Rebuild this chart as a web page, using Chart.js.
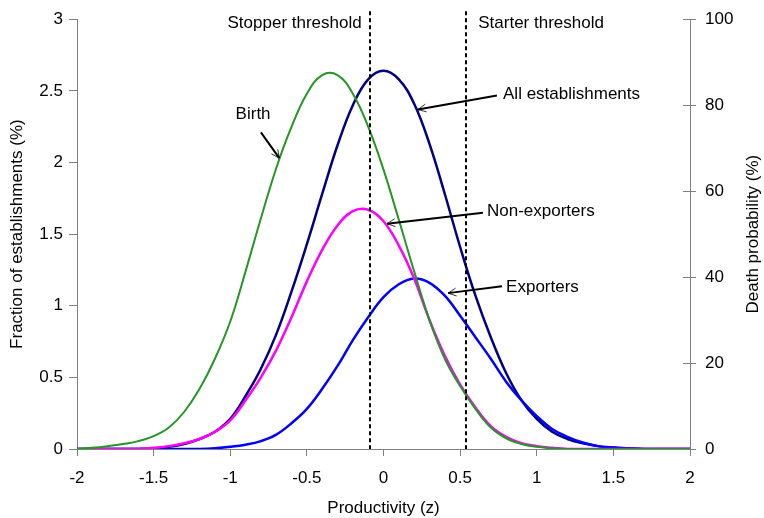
<!DOCTYPE html>
<html>
<head>
<meta charset="utf-8">
<script src="https://cdn.jsdelivr.net/npm/chart.js@4.4.0/dist/chart.umd.min.js"></script>
<style>
  html, body { margin: 0; padding: 0; background: #fff; }
</style>
</head>
<body>
<canvas id="chart" width="764" height="518"></canvas>
<script>
// Productivity grid (z) and curves, in % of establishments
const zValues = [-2, -1.9, -1.8, -1.7, -1.6, -1.5, -1.4, -1.3, -1.2, -1.1,
    -1, -0.9, -0.8, -0.7, -0.6, -0.5, -0.4, -0.3, -0.2, -0.1,
    0, 0.1, 0.2, 0.3, 0.4, 0.5, 0.6, 0.7, 0.8, 0.9,
    1, 1.1, 1.2, 1.3, 1.4, 1.5, 1.6, 1.7, 1.8, 1.9, 2];

const birth = [0, 0.008, 0.02, 0.035, 0.055, 0.09, 0.15, 0.26, 0.42, 0.63,
    0.89, 1.24, 1.61, 1.96, 2.25, 2.48, 2.61, 2.61, 2.48, 2.25,
    1.95, 1.6, 1.24, 0.9, 0.63, 0.44, 0.28, 0.15, 0.075, 0.035,
    0.015, 0.005, 0, 0, 0, 0, 0, 0, 0, 0, 0];

const allEstablishments = [0, 0, 0, 0, 0, 0.005, 0.015, 0.035, 0.07, 0.12,
    0.21, 0.37, 0.56, 0.8, 1.1, 1.43, 1.78, 2.12, 2.4, 2.58,
    2.64, 2.58, 2.41, 2.13, 1.78, 1.41, 1.07, 0.78, 0.53, 0.34,
    0.21, 0.12, 0.07, 0.04, 0.02, 0.01, 0.004, 0, 0, 0, 0];

const nonExporters = [0, 0, 0, 0, 0, 0.008, 0.02, 0.04, 0.07, 0.12,
    0.2, 0.34, 0.5, 0.69, 0.92, 1.17, 1.39, 1.56, 1.66, 1.67,
    1.59, 1.42, 1.19, 0.9, 0.65, 0.45, 0.29, 0.16, 0.085, 0.04,
    0.02, 0.008, 0, 0, 0, 0, 0, 0, 0, 0, 0];

const exporters = [0, 0, 0, 0, 0, 0, 0, 0, 0, 0.005,
    0.015, 0.03, 0.055, 0.1, 0.18, 0.28, 0.42, 0.58, 0.76, 0.92,
    1.06, 1.15, 1.19, 1.16, 1.07, 0.93, 0.78, 0.63, 0.47, 0.34,
    0.23, 0.14, 0.085, 0.045, 0.02, 0.01, 0.004, 0, 0, 0, 0];

const xTicks = [-2, -1.5, -1, -0.5, 0, 0.5, 1, 1.5, 2];
const thresholdZ = [-0.09, 0.54];
const thresholdLabels = ['Stopper threshold', 'Starter threshold'];

const FONT = "'Liberation Sans', Arial, sans-serif";
const AXIS_GREY = '#808080';

function toPoints(values) {
    return zValues.map((z, i) => ({ x: z, y: values[i] }));
}

// Callout labels with arrows, anchored in data units
const callouts = [
    { text: 'Birth', tz: -0.851, tv: 2.335, align: 'center', from: [-0.80, 2.21], to: [-0.68, 2.03] },
    { text: 'All establishments', tz: 0.78, tv: 2.474, align: 'left', from: [0.74, 2.467], to: [0.225, 2.37] },
    { text: 'Non-exporters', tz: 0.675, tv: 1.656, align: 'left', from: [0.649, 1.649], to: [0.023, 1.573] },
    { text: 'Exporters', tz: 0.80, tv: 1.13, align: 'left', from: [0.773, 1.136], to: [0.421, 1.088] }
];

const annotationPlugin = {
    id: 'annotations',
    afterDraw(chart) {
        const ctx = chart.ctx;
        const xs = chart.scales.x, ys = chart.scales.y, ys1 = chart.scales.y1;
        const area = chart.chartArea;
        ctx.save();

        // inner half of the crossing ticks on the right axis
        ctx.strokeStyle = AXIS_GREY;
        ctx.lineWidth = 1;
        ys1.ticks.forEach(t => {
            const py = Math.round(ys1.getPixelForValue(t.value)) + 0.5;
            ctx.beginPath();
            ctx.moveTo(area.right - 7, py);
            ctx.lineTo(area.right, py);
            ctx.stroke();
        });

        // threshold lines
        ctx.strokeStyle = '#000';
        ctx.lineWidth = 2;
        ctx.setLineDash([4, 3]);
        thresholdZ.forEach(z => {
            const px = Math.round(xs.getPixelForValue(z));
            ctx.beginPath();
            ctx.moveTo(px, area.top - 8);
            ctx.lineTo(px, area.bottom);
            ctx.stroke();
        });
        ctx.setLineDash([]);

        ctx.fillStyle = '#000';
        ctx.font = '17px ' + FONT;
        ctx.textBaseline = 'middle';
        ctx.textAlign = 'right';
        ctx.fillText(thresholdLabels[0], xs.getPixelForValue(thresholdZ[0]) - 8, area.top + 4);
        ctx.textAlign = 'left';
        ctx.fillText(thresholdLabels[1], xs.getPixelForValue(thresholdZ[1]) + 12, area.top + 4);

        // callouts
        callouts.forEach(c => {
            ctx.textAlign = c.align;
            ctx.fillText(c.text, xs.getPixelForValue(c.tz), ys.getPixelForValue(c.tv));
            const x1 = xs.getPixelForValue(c.from[0]), y1 = ys.getPixelForValue(c.from[1]);
            const x2 = xs.getPixelForValue(c.to[0]), y2 = ys.getPixelForValue(c.to[1]);
            ctx.lineWidth = 2;
            ctx.beginPath();
            ctx.moveTo(x1, y1);
            ctx.lineTo(x2, y2);
            ctx.stroke();
            const ang = Math.atan2(y1 - y2, x1 - x2);
            ctx.lineWidth = 0.8;
            [0.45, -0.45].forEach(d => {
                ctx.beginPath();
                ctx.moveTo(x2, y2);
                ctx.lineTo(x2 + 9 * Math.cos(ang + d), y2 + 9 * Math.sin(ang + d));
                ctx.stroke();
            });
        });

        // axis titles
        const midY = (area.top + area.bottom) / 2;
        ctx.textAlign = 'center';
        ctx.save();
        ctx.translate(17, midY);
        ctx.rotate(-Math.PI / 2);
        ctx.fillText('Fraction of establishments (%)', 0, 0);
        ctx.restore();
        ctx.save();
        ctx.translate(chart.width - 11, midY);
        ctx.rotate(-Math.PI / 2);
        ctx.fillText('Death probability (%)', 0, 0);
        ctx.restore();
        ctx.fillText('Productivity (z)', (area.left + area.right) / 2, chart.height - 10);

        ctx.restore();
    }
};

function lineSet(label, values, color, width) {
    return {
        label: label,
        data: toPoints(values),
        borderColor: color,
        backgroundColor: color,
        borderWidth: width,
        pointRadius: 0,
        tension: 0.4,
        fill: false,
        yAxisID: 'y'
    };
}

const ctx = document.getElementById('chart').getContext('2d');
new Chart(ctx, {
    type: 'line',
    data: {
        datasets: [
            lineSet('Birth', birth, '#259525', 2),
            lineSet('Non-exporters', nonExporters, '#ff00ff', 2.5),
            lineSet('Exporters', exporters, '#0000ff', 2.5),
            lineSet('All establishments', allEstablishments, '#000080', 2.5)
        ]
    },
    options: {
        responsive: false,
        animation: false,
        layout: { padding: { top: 16, left: 0, right: 0, bottom: 0 } },
        plugins: {
            legend: { display: false },
            tooltip: { enabled: false }
        },
        scales: {
            x: {
                type: 'linear',
                min: -2,
                max: 2,
                afterBuildTicks: s => { s.ticks = xTicks.map(v => ({ value: v })); },
                afterFit: s => { s.height = 69; },
                grid: { drawOnChartArea: false, drawTicks: true, tickLength: 7, color: AXIS_GREY },
                border: { color: AXIS_GREY, width: 1 },
                ticks: { color: '#000', font: { family: FONT, size: 17 }, padding: 12, maxRotation: 0,
                    callback: v => String(v) }
            },
            y: {
                position: 'left',
                min: 0,
                max: 3,
                afterFit: s => { s.width = 77; },
                grid: { drawOnChartArea: false, drawTicks: true, tickLength: 8, color: AXIS_GREY },
                border: { color: AXIS_GREY, width: 1 },
                ticks: { stepSize: 0.5, color: '#000', font: { family: FONT, size: 17 }, padding: 6,
                    callback: v => String(v) }
            },
            y1: {
                position: 'right',
                display: true,
                min: 0,
                max: 100,
                afterFit: s => { s.width = 74; },
                grid: { drawOnChartArea: false, drawTicks: true, tickLength: 6, color: AXIS_GREY },
                border: { color: AXIS_GREY, width: 1 },
                ticks: { stepSize: 20, color: '#000', font: { family: FONT, size: 17 }, padding: 9,
                    callback: v => String(v) }
            }
        }
    },
    plugins: [annotationPlugin]
});
</script>
</body>
</html>
